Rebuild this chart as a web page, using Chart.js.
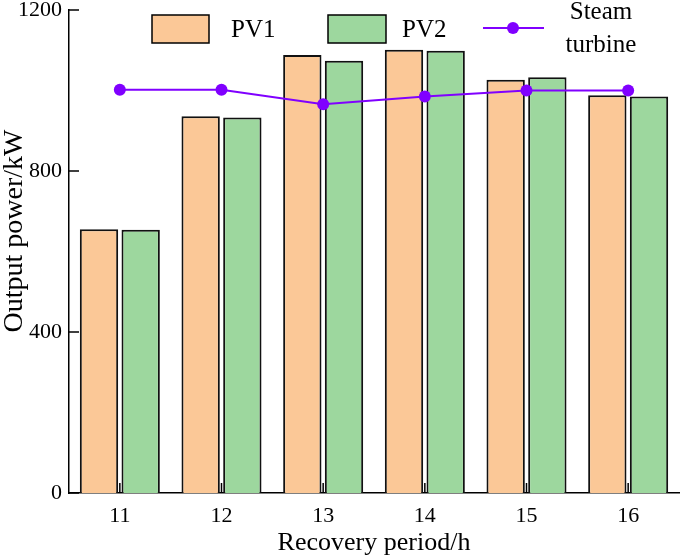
<!DOCTYPE html>
<html>
<head>
<meta charset="utf-8">
<script src="https://cdn.jsdelivr.net/npm/chart.js@4.4.0/dist/chart.umd.min.js"></script>
<style>
  html, body { margin: 0; padding: 0; background: #fff; }
  #wrap { width: 685px; height: 557px; position: relative; }
</style>
</head>
<body>
<div id="wrap"><canvas id="myChart"></canvas></div>
<script>
// recovery periods and outputs
const periods = ['11', '12', '13', '14', '15', '16'];
const pv1 = [655, 936, 1088, 1101, 1027, 988];
const pv2 = [654, 933, 1074, 1099, 1033, 985];
const steam = [1002, 1002, 966, 985, 1000, 1000];
const yTicks = [0, 400, 800, 1200];

const serif = "'Liberation Serif', 'Times New Roman', serif";
const orange = '#fbc897';
const green = '#9dd79e';
const purple = '#8000ff';

// inward tick marks on both axes, y title and the custom legend
const extras = {
    id: 'extras',
    afterDraw(chart) {
        const c = chart.ctx;
        const x = chart.scales.x, y = chart.scales.y;
        c.save();
        c.strokeStyle = '#000';
        c.lineWidth = 1.5;
        yTicks.forEach(v => {
            const py = y.getPixelForValue(v);
            c.beginPath();
            c.moveTo(x.left, py);
            c.lineTo(x.left + 10, py);
            c.stroke();
        });
        periods.forEach((p, i) => {
            const px = x.getPixelForValue(i);
            c.beginPath();
            c.moveTo(px, y.bottom);
            c.lineTo(px, y.bottom - 10);
            c.stroke();
        });

        // y axis title, sits a bit above the middle like in the figure
        c.save();
        c.translate(15, 231);
        c.rotate(-Math.PI / 2);
        c.font = '28px ' + serif;
        c.fillStyle = '#000';
        c.textAlign = 'center';
        c.textBaseline = 'middle';
        c.fillText('Output power/kW', 0, 0);
        c.restore();

        // legend
        c.font = '25px ' + serif;
        c.textBaseline = 'middle';
        c.fillStyle = orange;
        c.fillRect(152, 15, 57, 28);
        c.strokeRect(152, 15, 57, 28);
        c.fillStyle = green;
        c.fillRect(328, 15, 58, 28);
        c.strokeRect(328, 15, 58, 28);
        c.fillStyle = '#000';
        c.textAlign = 'left';
        c.fillText('PV1', 231, 30);
        c.fillText('PV2', 402, 30);
        c.strokeStyle = purple;
        c.lineWidth = 2;
        c.beginPath();
        c.moveTo(483, 28);
        c.lineTo(544, 28);
        c.stroke();
        c.fillStyle = purple;
        c.beginPath();
        c.arc(513, 28, 6, 0, Math.PI * 2);
        c.fill();
        c.fillStyle = '#000';
        c.textAlign = 'center';
        c.fillText('Steam', 601, 12);
        c.fillText('turbine', 601, 45);
        c.restore();
    }
};

const ctx = document.getElementById('myChart');
const myChart = new Chart(ctx, {
    type: 'bar',
    data: {
        labels: periods,
        datasets: [
            {
                type: 'line',
                label: 'Steam turbine',
                data: steam,
                borderColor: purple,
                backgroundColor: purple,
                borderWidth: 2,
                pointRadius: 6,
                pointBorderWidth: 0,
                tension: 0,
                order: 0,
            },
            {
                label: 'PV1',
                data: pv1,
                backgroundColor: orange,
                borderColor: '#111',
                borderWidth: 2,
                categoryPercentage: 0.82,
                barPercentage: 0.92,
                order: 1,
            },
            {
                label: 'PV2',
                data: pv2,
                backgroundColor: green,
                borderColor: '#111',
                borderWidth: 2,
                categoryPercentage: 0.82,
                barPercentage: 0.92,
                order: 1,
            },
        ]
    },
    options: {
        animation: false,
        responsive: true,
        maintainAspectRatio: false,
        layout: { padding: { top: 10, right: 0, left: 0, bottom: 0 } },
        plugins: {
            legend: { display: false },
            tooltip: { enabled: false },
        },
        scales: {
            x: {
                grid: { display: false, drawTicks: false },
                border: { display: true, color: '#000', width: 1.5 },
                ticks: { color: '#000', padding: 10, font: { family: serif, size: 22 } },
                title: {
                    display: true,
                    text: 'Recovery period/h',
                    color: '#000',
                    font: { family: serif, size: 26 },
                    padding: { top: 0, bottom: -2 },
                },
                afterFit: (scale) => { scale.height = 64; },
            },
            y: {
                min: 0,
                max: 1200,
                grid: { display: false, drawTicks: false },
                border: { display: true, color: '#000', width: 1.5 },
                ticks: {
                    stepSize: 400,
                    color: '#000',
                    padding: 7,
                    font: { family: serif, size: 22 },
                    callback: (v) => String(v),
                },
                afterFit: (scale) => {
                    scale.width = 69;
                    scale.paddingTop = 0;
                },
            }
        }
    },
    plugins: [extras]
});
</script>
</body>
</html>
